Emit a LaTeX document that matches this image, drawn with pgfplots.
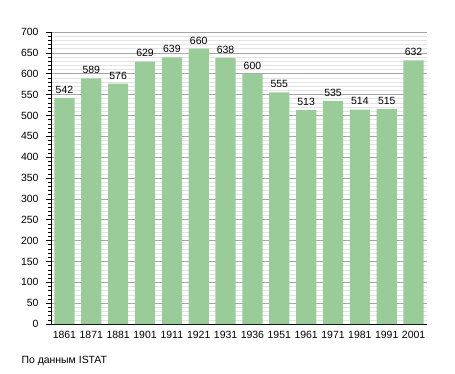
\documentclass[border=0pt]{standalone}
\usepackage{fontspec}
\setmainfont{Liberation Sans}
\usepackage{pgfplots}
\pgfplotsset{compat=1.18}
\definecolor{barg}{RGB}{153,204,153}
\begin{document}
\begin{tikzpicture}[x=1bp,y=1bp]
\useasboundingbox (0,0) rectangle (455,373);
\begin{axis}[
  at={(51bp,49bp)}, anchor=south west,
  scale only axis, width=376bp, height=292bp,
  xmin=-0.5, xmax=13.5, ymin=0, ymax=700,
  axis x line=bottom, axis y line=left,
  axis line style={-, black, line width=0.8pt},
  xtick={0,...,13},
  xticklabels={1861,1871,1881,1901,1911,1921,1931,1936,1951,1961,1971,1981,1991,2001},
  x tick style={draw=none},
  ytick={0,50,...,700},
  minor y tick num=4,
  y tick style={black, line width=0.5pt},
  major tick length=5bp, minor tick length=3bp,
  tick align=outside,
  ymajorgrids, yminorgrids,
  major grid style={gray!70, line width=0.5pt},
  minor grid style={gray!22, line width=0.5pt},
  ticklabel style={font=\fontsize{10.5}{12}\selectfont},
  /pgf/number format/assume math mode=true,
  /pgf/number format/1000 sep={},
  xticklabel style={yshift=1bp},
  yticklabel style={xshift=-4bp},
  ybar, bar width=20.2bp,
  nodes near coords,
  every node near coord/.append style={font=\fontsize{10.5}{12}\selectfont, black, yshift=1bp},
  clip=false,
]
\addplot[fill=barg, draw=none] coordinates {
(0,542) (1,589) (2,576) (3,629) (4,639) (5,660) (6,638) (7,600) (8,555) (9,513) (10,535) (11,514) (12,515) (13,632)
};
\end{axis}
\node[anchor=west, font=\fontsize{10.5}{12}\selectfont] at (18bp,12bp) {По данным ISTAT};
\end{tikzpicture}
\end{document}
